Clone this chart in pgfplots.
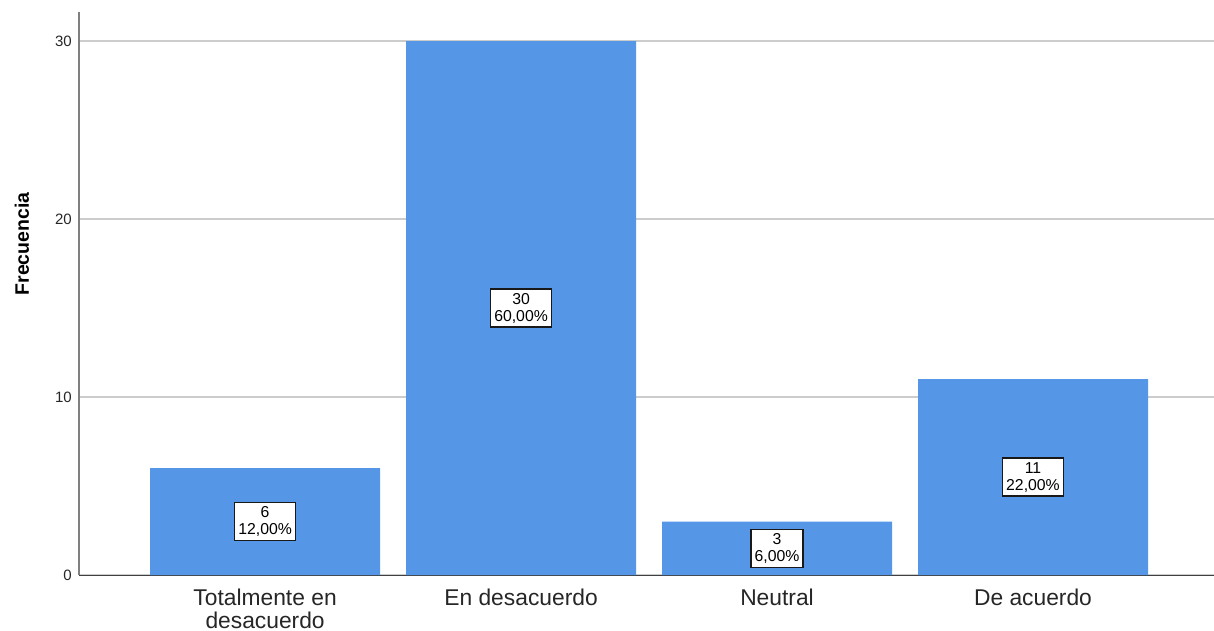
\documentclass[border=0pt]{standalone}
\usepackage{fontspec}
\setmainfont{Liberation Sans}
\usepackage{pgfplots}
\usepackage{pgfplotstable}
\pgfplotsset{compat=1.18}
\definecolor{barblue}{HTML}{5596E6}
\definecolor{gridgray}{HTML}{CCCCCC}
\pgfplotstableread{
x n half pct
0 6 3 12,00
1 30 15 60,00
2 3 1.5 6,00
3 11 5.5 22,00
}\datatable
\begin{document}
\begin{tikzpicture}
\begin{axis}[
 name=ax, anchor=south west,
 scale only axis, width=1135bp, height=563bp,
 xmin=-0.727, xmax=3.707, ymin=0, ymax=31.63,
 axis x line=bottom, axis y line=left,
 x axis line style={-, draw=black!75, line width=1bp},
 y axis line style={-, draw=black!50, line width=1.5bp},
 xtick={0,1,2,3},
 xticklabels={{Totalmente en\\desacuerdo},{En desacuerdo},{Neutral},{De acuerdo}},
 xticklabel style={align=center, font=\fontsize{22.8bp}{23bp}\selectfont, inner sep=0pt, yshift=-14bp, text=black!85},
 ytick={0,10,20,30},
 yticklabel style={font=\fontsize{15bp}{17bp}\selectfont, inner sep=0pt, xshift=-7bp, anchor=east, text=black!85},
 /pgf/number format/assume math mode=true,
 major tick length=0pt,
 ymajorgrids, grid style={draw=gridgray, line width=1.5bp},
 ylabel={Frecuencia},
 ylabel style={font=\bfseries\fontsize{19.5bp}{21bp}\selectfont, at={(axis description cs:-0.0502,0.588)}, anchor=center},
]
\addplot[ybar, fill=barblue, draw=none, bar width=230bp] table[x=x, y=n] {\datatable};
\addplot[draw=none, mark=none,
  point meta=explicit symbolic,
  visualization depends on={\thisrow{n} \as \cnt},
  nodes near coords={\pgfmathprintnumber{\cnt}\\\pgfplotspointmeta\%},
  nodes near coords align=center,
  every node near coord/.append style={anchor=center, align=center, draw=black!90, line width=1.4bp, fill=white, inner xsep=3.5bp, inner ysep=4bp, font=\fontsize{15.8bp}{17bp}\selectfont, text=black}
] table[x=x, y=half, meta=pct] {\datatable};
\end{axis}
\pgfresetboundingbox
\path[use as bounding box] (ax.south west) ++(-79bp,-56bp) rectangle ++(1214bp,631bp);
\end{tikzpicture}
\end{document}
